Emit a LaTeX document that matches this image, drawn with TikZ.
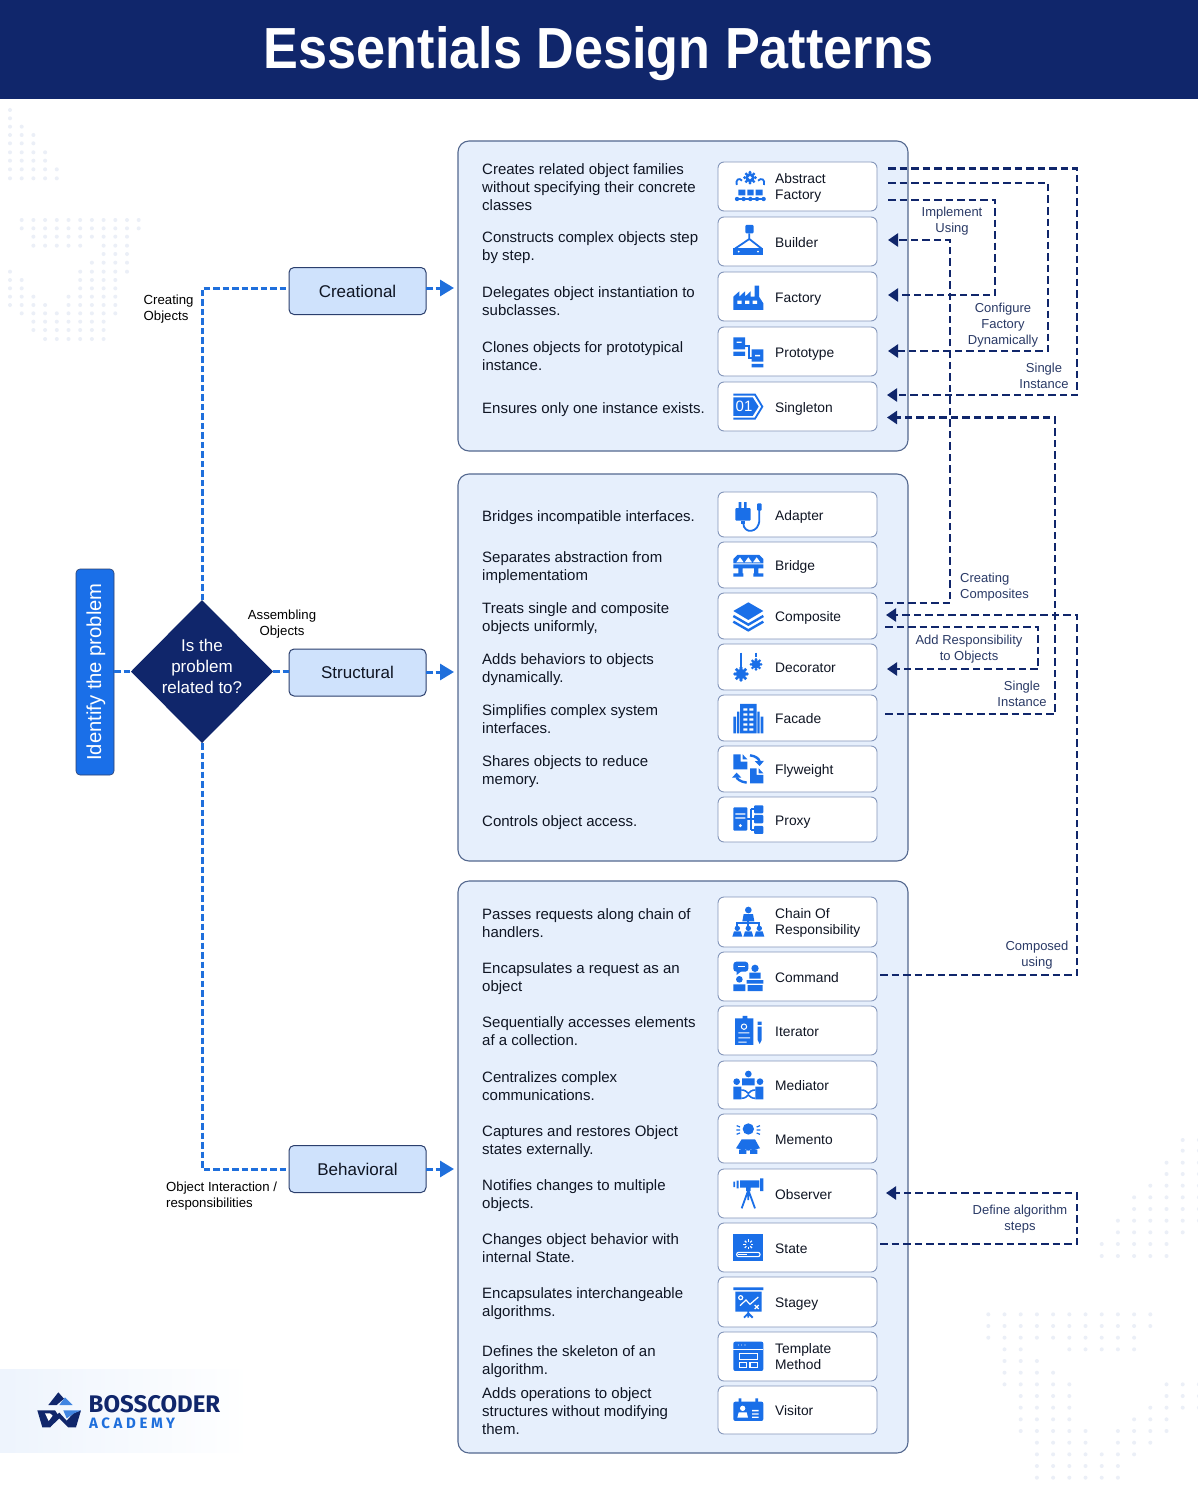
\documentclass[tikz,border=0pt]{standalone}
\usepackage{fontspec}
\setmainfont{Liberation Sans}
\newfontfamily\titlefont[FakeStretch=.9]{Liberation Sans}
\newfontfamily\logofont{Fira Sans}
\newfontfamily\logoacad[LetterSpace=24]{Fira Sans}
\usetikzlibrary{shapes.geometric,arrows.meta,calc}
\definecolor{navy}{HTML}{10266B}
\definecolor{bluex}{HTML}{1A6FE8}
\definecolor{flowblue}{HTML}{1F6FDC}
\definecolor{panelfill}{HTML}{E6EFFC}
\definecolor{panelline}{HTML}{54688F}
\definecolor{itemline}{HTML}{8496BA}
\definecolor{catfill}{HTML}{CFE2FC}
\definecolor{catline}{HTML}{2B3F6D}
\definecolor{inkc}{HTML}{0F1523}
\definecolor{labelc}{HTML}{2A3A66}
\definecolor{dotc}{HTML}{EBEFF7}
\tikzset{
  strutted/.style={execute at begin node=\strut,execute at end node=\strut},
  panel/.style={draw=panelline,line width=1.1pt,fill=panelfill,rounded corners=11pt},
  itembox/.style={draw=itemline,line width=.9pt,fill=white,rounded corners=6pt,minimum width=159pt,inner sep=0pt,outer sep=0pt},
  itemtext/.style={strutted,anchor=west,align=left,inner sep=0pt,yshift=-2.3pt,text=inkc,font=\fontsize{13.8}{16}\selectfont},
  desctext/.style={strutted,anchor=west,align=left,inner sep=0pt,yshift=-2.7pt,text=inkc,font=\fontsize{15}{18}\selectfont},
  catbox/.style={draw=catline,line width=1pt,fill=catfill,rounded corners=5pt,minimum width=137pt,minimum height=47pt,inner sep=0pt,outer sep=0pt,text=inkc,font=\fontsize{17}{20}\selectfont},
  flow/.style={draw=flowblue,line width=3pt,dash pattern=on 6.5pt off 3pt},
  flowarrow/.style={flow,-{Triangle[length=14pt,width=16pt,fill=flowblue]}},
  dep/.style={draw=navy,line width=2.3pt,dash pattern=on 7.5pt off 4pt,line join=miter},
  deparrow/.style={dep,-{Triangle[length=10pt,width=13pt,fill=navy]}},
  deplabel/.style={strutted,align=center,inner sep=0pt,yshift=-2.2pt,text=labelc,font=\fontsize{13}{16}\selectfont},
  blacklabel/.style={strutted,align=left,inner sep=0pt,yshift=-2.2pt,text=black,font=\fontsize{13.2}{16}\selectfont},
  ico/.style={draw=bluex,line width=1.8pt},
  icow/.style={draw=white,line width=1pt},
  zoomA/.style={shift={(700,140)},x=.3333pt,y=-.3333pt},
  zoomB/.style={shift={(700,480)},x=.3333pt,y=-.3333pt},
  zoomC/.style={shift={(710,890)},x=.3333pt,y=-.3333pt},
  zoomD/.style={shift={(710,1165)},x=.3333pt,y=-.3333pt},
  zoomE/.style={shift={(0,1350)},x=.3333pt,y=-.3333pt},
}
\newcommand{\gearsolid}[3]{%
  \foreach \a in {0,45,...,315}{\fill[bluex] ({#1+#3*cos(\a)},{#2+#3*sin(\a)}) circle ({#3*.3});}
  \fill[bluex] (#1,#2) circle ({#3*.88});}
\newcommand{\gearicon}[3]{\gearsolid{#1}{#2}{#3}\fill[white] (#1,#2) circle ({#3*.34});}
% item: name, top, bottom, text
\newcommand{\pitem}[4]{%
  \pgfmathsetmacro\cy{(#2+#3)/2}\pgfmathsetmacro\hh{#3-#2}
  \node[itembox,minimum height=\hh pt] (#1) at (797.5,\cy) {};
  \node[itemtext] (#1-t) at (775,\cy) {#4};}
\newcommand{\dotfield}[4]{% x0, dx, y0, list
  \foreach \yy/\cl in {#4}{\foreach \c in \cl{\fill[dotc] ({#1+#2*\c},{\yy/3+#3}) circle (2);}}}
\begin{document}
\begin{tikzpicture}[x=1pt,y=-1pt]
\useasboundingbox (0,0) rectangle (1198,1498);
\fill[white] (0,0) rectangle (1198,1498);
% header
\fill[navy] (0,0) rectangle (1198,99);
\node[anchor=base,text=white,inner sep=0pt,font=\titlefont\fontsize{58}{60}\selectfont\bfseries] (title) at (599,69) {Essentials Design Patterns};
% background dots
\dotfield{10}{11.7}{100}{30/{0},55/{0},80/{0,1},105/{0,1,2},130/{0,1,2},157/{0,1,2,3},182/{0,1,2,3},208/{0,1,2,3,4},235/{0,1,2,3,4},
360/{1,...,11},385/{1,...,11},410/{2,...,10},437/{2,...,6,8,9,10},462/{8,9,10},488/{7,...,10},515/{0,6,7,8,9,10},540/{0,1,6,7,8,9},565/{0,1,6,7,8,9},590/{0,1,2,5,6,7,8,9},615/{0,1,2,3,5,6,7,8,9},640/{1,...,9},665/{2,...,8},690/{2,...,8},717/{3,...,8}}
\dotfield{988.3}{16.2}{1130}{30/{12,13},62/{12,13},98/{11,12,13},132/{11,12,13},167/{10,11,12,13},202/{9,10,11,12,13},237/{9,...,13},272/{8,...,13},307/{8,...,12},342/{7,...,11},378/{7,...,11},
553/{0,...,10},588/{0,...,10},623/{0,...,9},658/{1,2,5,6,7,8,9},693/{1,2,3},728/{1,2,3,4},763/{1,2,3,4,5,11,12,13},798/{2,3,4,5,11,12,13},833/{2,3,4,5,10,11,12,13},868/{2,3,4,5,9,10,11},903/{2,...,6,8,9,10,11},938/{3,...,6,8,9,10},973/{3,...,9},1008/{3,...,8},1043/{3,...,8}}
% logo band
\fill[left color=panelfill!70,right color=white] (0,1369) rectangle (250,1452);
\begin{scope}[zoomE]
\fill[navy] (175,127)--(192,146)--(170,165)--(145,165)--cycle;
\fill[flowblue!85] (195,142)--(218,165)--(178,165)--cycle;
\fill[navy] (112,181)--(165,181)--(176,197)--(150,232)--(127,232)--cycle;
\fill[white] (135,190)--(150,190)--(158,197)--(146,213)--cycle;
\fill[navy] (243,181)--(228,232)--(205,232)--(178,205)--(150,232)--(158,205)--(178,188)--(200,212)--(220,190)--cycle;
\fill[flowblue!85] (190,181)--(243,181)--(222,190)--(200,205)--cycle;
\end{scope}
\node[anchor=west,inner sep=0pt,text=navy,font=\logofont\fontsize{24}{24}\selectfont\bfseries] (brand) at (88.5,1404) {BOSSCODER};
\node[anchor=west,inner sep=0pt,text=flowblue,font=\logoacad\fontsize{15}{18}\selectfont\bfseries] (acad) at (89,1423.5) {ACADEMY};
% panels
\draw[panel] (458,141) rectangle (908,451);
\draw[panel] (458,474) rectangle (908,861);
\draw[panel] (458,881) rectangle (908,1453);
% creational
\pitem{af}{162}{211}{Abstract\\Factory}
\pitem{bu}{217}{266}{Builder}
\pitem{fa}{272}{321}{Factory}
\pitem{pr}{327}{376}{Prototype}
\pitem{sg}{382}{431}{Singleton}
\node[desctext] (d1) at (482,187) {Creates related object families\\without specifying their concrete\\classes};
\node[desctext] (d2) at (482,246) {Constructs complex objects step\\by step.};
\node[desctext] (d3) at (482,301) {Delegates object instantiation to\\subclasses.};
\node[desctext] (d4) at (482,356) {Clones objects for prototypical\\instance.};
\node[desctext] (d5) at (482,407) {Ensures only one instance exists.};
% structural
\pitem{ad}{492}{537}{Adapter}
\pitem{br}{542}{588}{Bridge}
\pitem{co}{593}{639}{Composite}
\pitem{de}{644}{690}{Decorator}
\pitem{fc}{695}{741}{Facade}
\pitem{fl}{746}{792}{Flyweight}
\pitem{px}{797}{842}{Proxy}
\node[desctext] (d6) at (482,515) {Bridges incompatible interfaces.};
\node[desctext] (d7) at (482,566) {Separates abstraction from\\implementatiom};
\node[desctext] (d8) at (482,617) {Treats single and composite\\objects uniformly,};
\node[desctext] (d9) at (482,668) {Adds behaviors to objects\\dynamically.};
\node[desctext] (d10) at (482,719) {Simplifies complex system\\interfaces.};
\node[desctext] (d11) at (482,770) {Shares objects to reduce\\memory.};
\node[desctext] (d12) at (482,820) {Controls object access.};
% behavioral
\pitem{ch}{897}{947}{Chain Of\\Responsibility}
\pitem{cm}{952}{1001}{Command}
\pitem{it}{1006}{1055}{Iterator}
\pitem{me}{1061}{1109}{Mediator}
\pitem{mo}{1114}{1163}{Memento}
\pitem{ob}{1169}{1218}{Observer}
\pitem{st}{1223}{1272}{State}
\pitem{sy}{1277}{1327}{Stagey}
\pitem{tm}{1332}{1381}{Template\\Method}
\pitem{vi}{1386}{1434}{Visitor}
\node[desctext] (d13) at (482,923) {Passes requests along chain of\\handlers.};
\node[desctext] (d14) at (482,977) {Encapsulates a request as an\\object};
\node[desctext] (d15) at (482,1031) {Sequentially accesses elements\\af a collection.};
\node[desctext] (d16) at (482,1086) {Centralizes complex\\communications.};
\node[desctext] (d17) at (482,1140) {Captures and restores Object\\states externally.};
\node[desctext] (d18) at (482,1194) {Notifies changes to multiple\\objects.};
\node[desctext] (d19) at (482,1248) {Changes object behavior with\\internal State.};
\node[desctext] (d20) at (482,1302) {Encapsulates interchangeable\\algorithms.};
\node[desctext] (d21) at (482,1360) {Defines the skeleton of an\\algorithm.};
\node[desctext] (d22) at (482,1411) {Adds operations to object\\structures without modifying\\them.};
% icons, creational
\begin{scope}[zoomA]
\gearicon{150}{113}{16}
\draw[ico] (110,135) .. controls (106,118) and (118,112) .. (126,122);
\draw[ico] (192,135) .. controls (196,118) and (184,112) .. (174,122);
\fill[bluex] (115,149) rectangle (136,166) (142,149) rectangle (161,166) (167,149) rectangle (188,166);
\foreach \x in {111,131,151,171,191}{\fill[bluex] (\x,177) circle (6.5);}
\fill[bluex] (108,173) rectangle (194,181);
\fill[bluex,rounded corners=1pt] (136,255) rectangle (161,280);
\draw[ico] (148,280)--(148,297) (105,326)--(148,297)--(185,326);
\fill[bluex] (100,325) rectangle (190,345);
\fill[white] (116,335) circle (3) (174,335) circle (3);
\fill[bluex] (100,510)--(100,470)--(118,454)--(118,470)--(135,454)--(135,470)--(152,454)--(152,470)--(164,470)--(164,437)--(177,437)--(177,470)--(190,490)--(190,510)--cycle;
\fill[white] (112,482) rectangle (125,492) (135,482) rectangle (148,492) (158,482) rectangle (171,492);
\fill[bluex] (100,592) rectangle (135,628) (100,635) rectangle (135,648) (155,628) rectangle (190,665) (155,672) rectangle (190,682);
\fill[white] (110,605) rectangle (125,609) (165,645) rectangle (180,649);
\draw[ico] (135,618)--(148,618)--(148,655)--(155,655);
\fill[bluex] (100,772)--(158,772)--(176,800)--(158,828)--(100,828)--cycle;
\draw[ico] (100,764)--(165,764)--(187,800)--(165,836)--(100,836);
\node[text=white,inner sep=0pt,font=\fontsize{15}{15}\selectfont] (sg-ico) at (132,800) {01};
\end{scope}
% icons, structural
\begin{scope}[zoomB]
\fill[bluex] (116,66) rectangle (124,88) (132,66) rectangle (140,88);
\fill[bluex,rounded corners=1pt] (106,84) rectangle (152,122);
\fill[bluex] (122,122) rectangle (136,132);
\draw[ico] (130,130) .. controls (130,162) and (178,162) .. (178,118) -- (178,90);
\fill[bluex,rounded corners=1pt] (171,70) rectangle (185,92);
\fill[bluex] (100,250)--(100,237)--(112,225)--(178,225)--(190,237)--(190,250)--cycle;
\fill[white] (109,247)--(120,232)--(131,247)--cycle (134,247)--(145,232)--(156,247)--cycle (159,247)--(170,232)--(181,247)--cycle;
\fill[bluex] (100,253) rectangle (190,265) (115,265) rectangle (128,280) (100,280) rectangle (130,290) (162,265) rectangle (175,280) (160,280) rectangle (190,290);
\fill[bluex] (145,367)--(190,393)--(145,420)--(100,393)--cycle;
\draw[draw=bluex,line width=2.4pt] (100,408)--(145,434)--(190,408) (100,425)--(145,451)--(190,425);
\gearsolid{123}{582}{18}
\gearsolid{168}{553}{15}
\draw[draw=bluex,line width=1.3pt] (123,518)--(123,565) (168,518)--(168,530);
\fill[bluex] (120,672) rectangle (170,760) (100,710) rectangle (108,760) (111,695) rectangle (118,760) (172,695) rectangle (179,760) (182,710) rectangle (190,760);
\foreach \yy in {685,700,715,730,745}{\fill[white] (130,\yy) rectangle (142,\yy+7) (148,\yy) rectangle (160,\yy+7);}
\fill[bluex] (100,823)--(122,823)--(122,845)--(142,845)--(142,868)--(100,868)--cycle;
\fill[bluex] (128,823)--(142,838)--(128,838)--cycle;
\fill[bluex] (150,865)--(170,865)--(170,885)--(190,885)--(190,910)--(150,910)--cycle;
\fill[bluex] (176,865)--(190,880)--(176,880)--cycle;
\draw[draw=bluex,line width=2.4pt,-{Triangle[length=5pt,width=9pt,fill=bluex]}] (150,826) .. controls (168,828) and (178,838) .. (179,858);
\draw[draw=bluex,line width=2.4pt,-{Triangle[length=5pt,width=9pt,fill=bluex]}] (140,908) .. controls (120,906) and (110,895) .. (110,878);
\fill[bluex,rounded corners=1pt] (100,982) rectangle (142,1052);
\fill[white] (106,1000) rectangle (136,1004) (106,1012) rectangle (136,1016) (121,1037) circle (5);
\fill[bluex,rounded corners=1pt] (162,976) rectangle (190,1000) (162,1005) rectangle (190,1030) (162,1038) rectangle (190,1062);
\draw[ico] (142,1018)--(162,1018) (152,988)--(152,1050) (152,988)--(162,988) (152,1050)--(162,1050);
\end{scope}
% icons, behavioral
\begin{scope}[zoomC]
\fill[bluex] (115,60) circle (10);
\fill[bluex] (97,94)--(101,72)--(129,72)--(133,94)--cycle;
\draw[ico] (115,92)--(115,108) (82,108)--(82,100)--(148,100)--(148,108);
\foreach \x in {82,115,148}{\fill[bluex] (\x,115) circle (8); \fill[bluex] ({\x-15},140)--({\x-10},124)--({\x+10},124)--({\x+15},140)--cycle;}
\fill[bluex,rounded corners=3pt] (70,215) rectangle (115,245);
\fill[bluex] (80,243)--(95,243)--(80,255)--cycle;
\fill[white] (84,228) rectangle (104,232);
\fill[bluex] (135,235) circle (11) (118,248) rectangle (152,266) (110,270) rectangle (160,281) (113,285) rectangle (158,303) (88,268) circle (10) (70,283) rectangle (106,303);
\fill[bluex] (75,385) rectangle (130,465) (98,378) rectangle (112,392);
\draw[icow] (102,410) circle (8);
\fill[white] (85,427) rectangle (118,430) (85,442) rectangle (120,445) (85,455) rectangle (110,458);
\fill[bluex] (143,395) rectangle (155,405) (143,410) rectangle (155,450) (155,450)--(149,462)--(143,450)--cycle;
\fill[bluex] (115,552) circle (10) (80,575) circle (10) (150,575) circle (10) (96,565) rectangle (134,586) (70,590) rectangle (94,628) (136,590) rectangle (160,628);
\draw[draw=bluex,line width=1.6pt] (94,600) .. controls (105,600) and (110,605) .. (115,610) .. controls (120,605) and (125,600) .. (136,600);
\draw[draw=bluex,line width=1.6pt] (94,625) .. controls (105,625) and (110,620) .. (115,615) .. controls (120,620) and (125,625) .. (136,625);
\fill[bluex] (115,717) circle (17);
\draw[draw=bluex,line width=1.2pt] (80,707)--(90,711) (79,720)--(90,720) (80,733)--(90,729) (150,707)--(140,711) (151,720)--(140,720) (150,733)--(140,729);
\fill[bluex] (78,775)--(95,748)--(135,748)--(150,775)--(115,782)--cycle (87,779) rectangle (109,792) (120,779) rectangle (142,792);
\end{scope}
\begin{scope}[zoomD]
\fill[bluex] (70,50) rectangle (75,66) (80,47) rectangle (86,70) (90,46) rectangle (148,68) (150,40) rectangle (160,78) (108,66) rectangle (122,78);
\draw[ico] (115,75)--(95,130) (115,75)--(135,130) (115,75)--(115,105);
\fill[bluex] (70,208) rectangle (160,288);
\foreach \a in {0,45,...,315}{\draw[draw=white,line width=1.1pt] ({115+8*cos(\a)},{238+8*sin(\a)})--({115+15*cos(\a)},{238+15*sin(\a)});}
\draw[draw=white,line width=1.1pt,rounded corners=2pt] (80,262) rectangle (150,275);
\fill[white] (84,266) rectangle (112,271);
\fill[bluex] (70,367) rectangle (160,375) (76,380) rectangle (155,440);
\draw[draw=white,line width=1.2pt] (90,422)--(108,405)--(120,418)--(145,396) (92,398) circle (6) (134,420)--(146,432) (146,420)--(134,432);
\draw[ico] (115,438)--(115,458) (102,458)--(115,445)--(128,458);
\fill[bluex,rounded corners=2pt] (70,530) rectangle (160,618);
\fill[white] (70,551) rectangle (160,554);
\fill[white] (85,540) circle (1.6) (95,540) circle (1.6) (105,540) circle (1.6);
\draw[draw=white,line width=1.1pt] (88,565) rectangle (142,583) (88,592) rectangle (110,607) (120,592) rectangle (142,607);
\fill[bluex,rounded corners=2pt] (70,710) rectangle (160,768);
\fill[bluex] (86,700) rectangle (94,718) (136,700) rectangle (144,718);
\fill[white] (98,730) circle (8) (82,758)--(86,742)--(110,742)--(114,758)--cycle (126,735) rectangle (146,739) (126,745) rectangle (146,749) (126,755) rectangle (146,759);
\end{scope}
% left side
\node[draw=catline,line width=.6pt,fill=bluex,rounded corners=4pt,minimum width=38pt,minimum height=206pt,inner sep=0pt,outer sep=0pt] (id) at (95,672) {};
\node[rotate=90,text=white,inner sep=0pt,font=\fontsize{20.2}{22}\selectfont] (id-t) at (96,672) {Identify the problem};
\node[diamond,fill=navy,minimum width=142pt,minimum height=143pt,inner sep=0pt,outer sep=0pt] (dia) at (202,671.5) {};
\node[text=white,align=center,inner sep=0pt,font=\fontsize{17}{21}\selectfont] (dia-t) at (202,666) {Is the\\problem\\related to?};
\node[catbox] (cr) at (357.5,291) {Creational};
\node[catbox] (sr) at (357.5,672.5) {Structural};
\node[catbox] (bh) at (357.5,1169) {Behavioral};
\coordinate (cr-end) at (454,288);
\coordinate (sr-end) at (454,672);
\coordinate (bh-end) at (454,1169);
\draw[flow] (id.east |- dia.west) -- (dia.west);
\draw[flow] (dia.east) -- (dia.east -| sr.west);
\draw[flow] (dia.north) -- (dia.north |- cr-end) -- (cr-end -| cr.west);
\draw[flow] (dia.south) -- (dia.south |- bh-end) -- (bh-end -| bh.west);
\draw[flowarrow] (cr-end -| cr.east) -- (cr-end);
\draw[flowarrow] (sr-end -| sr.east) -- (sr-end);
\draw[flowarrow] (bh-end -| bh.east) -- (bh-end);
\node[blacklabel,anchor=west] (l1) at (143.5,308) {Creating\\Objects};
\node[blacklabel,align=center] (l2) at (282,623) {Assembling\\Objects};
\node[blacklabel,anchor=west] (l3) at (166,1195) {Object Interaction /\\responsibilities};
% ports and rails
\coordinate (railA) at (1077,0);
\coordinate (railB) at (1048,0);
\coordinate (railC) at (995,0);
\coordinate (railD) at (950,0);
\coordinate (railE) at (1055,0);
\coordinate (railF) at (1038,0);
\coordinate (af1) at ([xshift=11pt,yshift=18pt]af.east);
\coordinate (af2) at ([xshift=11pt,yshift=3.5pt]af.east);
\coordinate (af3) at ([xshift=11pt,yshift=-13.5pt]af.east);
\coordinate (bu1) at ([xshift=11pt,yshift=1.5pt]bu.east);
\coordinate (fa1) at ([xshift=11pt,yshift=1.5pt]fa.east);
\coordinate (pr1) at ([xshift=11pt,yshift=.5pt]pr.east);
\coordinate (sg1) at ([xshift=10pt,yshift=11.5pt]sg.east);
\coordinate (sg2) at ([xshift=10pt,yshift=-11pt]sg.east);
\coordinate (co1) at ([xshift=8pt,yshift=13pt]co.east);
\coordinate (co2) at ([xshift=9pt,yshift=1pt]co.east);
\coordinate (co3) at ([xshift=8pt,yshift=-11pt]co.east);
\coordinate (de1) at ([xshift=10pt,yshift=-2pt]de.east);
\coordinate (fc1) at ([xshift=8pt,yshift=4pt]fc.east);
\coordinate (cm1) at ([xshift=3pt,yshift=1.5pt]cm.east);
\coordinate (ob1) at ([xshift=9pt,yshift=.5pt]ob.east);
\coordinate (st1) at ([xshift=3pt,yshift=3.5pt]st.east);
\draw[deparrow] (af1) -- (af1 -| railA) -- (sg1 -| railA) -- (sg1);
\draw[deparrow] (af2) -- (af2 -| railB) -- (pr1 -| railB) -- (pr1);
\draw[deparrow] (af3) -- (af3 -| railC) -- (fa1 -| railC) -- (fa1);
\draw[deparrow] (co1) -- (co1 -| railD) -- (bu1 -| railD) -- (bu1);
\draw[deparrow] (fc1) -- (fc1 -| railE) -- (sg2 -| railE) -- (sg2);
\draw[deparrow] (co3) -- (co3 -| railF) -- (de1 -| railF) -- (de1);
\draw[deparrow] (cm1) -- (cm1 -| railA) -- (co2 -| railA) -- (co2);
\draw[deparrow] (st1) -- (st1 -| railA) -- (ob1 -| railA) -- (ob1);
% connector labels
\node[deplabel] (t1) at (952,220) {Implement\\Using};
\node[deplabel] (t2) at (1003,324) {Configure\\Factory\\Dynamically};
\node[deplabel] (t3) at (1044,376) {Single\\Instance};
\node[deplabel,align=left,anchor=west] (t4) at (960,586) {Creating\\Composites};
\node[deplabel] (t5) at (969,648) {Add Responsibility\\to Objects};
\node[deplabel] (t6) at (1022,694) {Single\\Instance};
\node[deplabel] (t7) at (1037,954) {Composed\\using};
\node[deplabel] (t8) at (1020,1218) {Define algorithm\\steps};
\end{tikzpicture}
\end{document}
